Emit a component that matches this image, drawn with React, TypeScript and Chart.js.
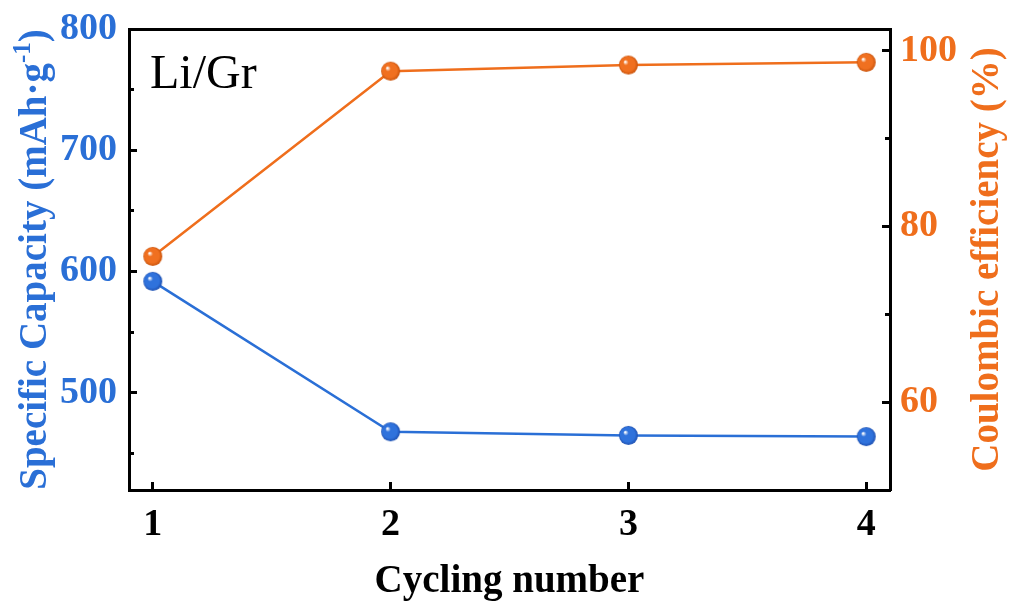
import React, { useEffect, useRef } from "react";
import { Chart, registerables } from "chart.js";

Chart.register(...registerables);

const cycles = [1, 2, 3, 4];
const capacity = [592, 468, 465, 464];
const efficiency = [76.6, 97.7, 98.4, 98.7];

const xTicks = [1, 2, 3, 4];
const leftMajor = [500, 600, 700, 800];
const leftMinor = [450, 550, 650, 750];
const rightMajor = [60, 80, 100];
const rightMinor = [70, 90];

const BLUE = "#2a6fd6";
const ORANGE = "#ef6e1c";
const SERIF = "'Liberation Serif', 'Times New Roman', serif";

function makeBall(base: string, dark: string, r: number): HTMLCanvasElement {
  const c = document.createElement("canvas");
  const s = Math.ceil(r * 2 + 2);
  c.width = s;
  c.height = s;
  const ctx = c.getContext("2d")!;
  const cx = s / 2;
  const cy = s / 2;
  const g = ctx.createRadialGradient(cx - r * 0.35, cy - r * 0.35, r * 0.05, cx, cy, r);
  g.addColorStop(0, "#ffffff");
  g.addColorStop(0.25, base);
  g.addColorStop(0.75, base);
  g.addColorStop(1, dark);
  ctx.fillStyle = g;
  ctx.beginPath();
  ctx.arc(cx, cy, r, 0, Math.PI * 2);
  ctx.fill();
  return c;
}

const textPlugin = {
  id: "texts",
  afterDraw(chart: any) {
    const ctx = chart.ctx as CanvasRenderingContext2D;
    const area = chart.chartArea;
    const midY = (area.top + area.bottom) / 2;
    ctx.save();
    ctx.fillStyle = "#000";
    ctx.font = `48px ${SERIF}`;
    ctx.textAlign = "left";
    ctx.textBaseline = "alphabetic";
    ctx.fillText("Li/Gr", 150, 88);

    ctx.font = `bold 39px ${SERIF}`;
    ctx.textAlign = "center";
    ctx.fillText("Cycling number", (area.left + area.right) / 2, 592);

    const big = `bold 39px ${SERIF}`;
    const small = `bold 25px ${SERIF}`;
    const parts = [
      { t: "Specific Capacity (mAh·g", f: big, dy: 0 },
      { t: "-1", f: small, dy: -16 },
      { t: ")", f: big, dy: 0 },
    ];
    let total = 0;
    for (const p of parts) {
      ctx.font = p.f;
      total += ctx.measureText(p.t).width;
    }
    ctx.save();
    ctx.translate(46, midY);
    ctx.rotate(-Math.PI / 2);
    ctx.fillStyle = BLUE;
    ctx.textAlign = "left";
    let x = -total / 2;
    for (const p of parts) {
      ctx.font = p.f;
      ctx.fillText(p.t, x, p.dy);
      x += ctx.measureText(p.t).width;
    }
    ctx.restore();

    ctx.save();
    ctx.translate(998, midY);
    ctx.rotate(-Math.PI / 2);
    ctx.fillStyle = ORANGE;
    ctx.font = big;
    ctx.textAlign = "center";
    ctx.fillText("Coulombic efficiency (%)", 0, 0);
    ctx.restore();

    ctx.restore();
  },
};

function noPad(s: any) {
  s.paddingTop = 0;
  s.paddingBottom = 0;
  s.paddingLeft = 0;
  s.paddingRight = 0;
}

export default function App() {
  const ref = useRef<HTMLCanvasElement | null>(null);
  useEffect(() => {
    const canvas = ref.current!;
    const blueBall = makeBall("#2f72dc", "#1d4fb0", 9.5);
    const orangeBall = makeBall("#f07020", "#c8520a", 9.5);
    const tickFont = { family: SERIF, size: 38, weight: "bold" as const };
    const chart = new Chart(canvas, {
      type: "line",
      data: {
        datasets: [
          {
            label: "Specific Capacity",
            data: cycles.map((c, i) => ({ x: c, y: capacity[i] })),
            borderColor: BLUE,
            borderWidth: 2.5,
            pointStyle: blueBall as any,
            pointRadius: 9.5,
            yAxisID: "y",
            xAxisID: "x",
          },
          {
            label: "Coulombic efficiency",
            data: cycles.map((c, i) => ({ x: c, y: efficiency[i] })),
            borderColor: ORANGE,
            borderWidth: 2.5,
            pointStyle: orangeBall as any,
            pointRadius: 9.5,
            yAxisID: "y1",
            xAxisID: "x",
          },
        ],
      },
      options: {
        responsive: false,
        devicePixelRatio: 1,
        animation: false,
        layout: { padding: { top: 29, left: 0, right: 0, bottom: 0 } },
        plugins: { legend: { display: false }, tooltip: { enabled: false } },
        scales: {
          x: {
            type: "linear",
            position: "bottom",
            min: 0.9,
            max: 4.1,
            afterBuildTicks: (s: any) => {
              s.ticks = xTicks.map((v) => ({ value: v }));
            },
            afterFit: (s: any) => {
              s.height = 115;
              noPad(s);
            },
            ticks: {
              font: tickFont,
              color: "#000",
              padding: 20,
              callback: (v: any) => String(v),
            },
            grid: {
              drawOnChartArea: false,
              tickLength: -8,
              tickWidth: 3,
              tickColor: "#000",
            },
            border: { display: true, color: "#000", width: 3 },
          },
          xTop: {
            type: "linear",
            position: "top",
            min: 0.9,
            max: 4.1,
            afterFit: (s: any) => {
              s.height = 0;
              noPad(s);
            },
            ticks: { display: false },
            grid: { display: false, drawTicks: false },
            border: { display: true, color: "#000", width: 3 },
          },
          y: {
            type: "linear",
            position: "left",
            weight: 1,
            min: 420,
            max: 800,
            afterBuildTicks: (s: any) => {
              s.ticks = leftMajor.map((v) => ({ value: v }));
            },
            afterFit: (s: any) => {
              s.width = 129;
              noPad(s);
            },
            ticks: {
              font: tickFont,
              color: BLUE,
              padding: 20,
              callback: (v: any) => String(v),
            },
            grid: {
              drawOnChartArea: false,
              tickLength: -8,
              tickWidth: 3,
              tickColor: "#000",
            },
            border: { display: true, color: "#000", width: 3 },
          },
          yMinor: {
            type: "linear",
            position: "left",
            weight: 0,
            min: 420,
            max: 800,
            afterBuildTicks: (s: any) => {
              s.ticks = leftMinor.map((v) => ({ value: v }));
            },
            afterFit: (s: any) => {
              s.width = 0;
              noPad(s);
            },
            ticks: { display: false },
            grid: {
              drawOnChartArea: false,
              tickLength: -5,
              tickWidth: 3,
              tickColor: "#000",
            },
            border: { display: false },
          },
          y1: {
            type: "linear",
            position: "right",
            weight: 1,
            min: 50,
            max: 102.5,
            afterBuildTicks: (s: any) => {
              s.ticks = rightMajor.map((v) => ({ value: v }));
            },
            afterFit: (s: any) => {
              s.width = 121;
              noPad(s);
            },
            ticks: {
              font: tickFont,
              color: ORANGE,
              padding: 18,
              callback: (v: any) => String(v),
            },
            grid: {
              drawOnChartArea: false,
              tickLength: -8,
              tickWidth: 3,
              tickColor: "#000",
            },
            border: { display: true, color: "#000", width: 3 },
          },
          y1Minor: {
            type: "linear",
            position: "right",
            weight: 0,
            min: 50,
            max: 102.5,
            afterBuildTicks: (s: any) => {
              s.ticks = rightMinor.map((v) => ({ value: v }));
            },
            afterFit: (s: any) => {
              s.width = 0;
              noPad(s);
            },
            ticks: { display: false },
            grid: {
              drawOnChartArea: false,
              tickLength: -5,
              tickWidth: 3,
              tickColor: "#000",
            },
            border: { display: false },
          },
        },
      } as any,
      plugins: [textPlugin],
    });
    return () => chart.destroy();
  }, []);
  return (
    <div style={{ position: "fixed", left: 0, top: 0, width: 1011, height: 605, background: "#fff" }}>
      <canvas ref={ref} width={1011} height={605} />
    </div>
  );
}
